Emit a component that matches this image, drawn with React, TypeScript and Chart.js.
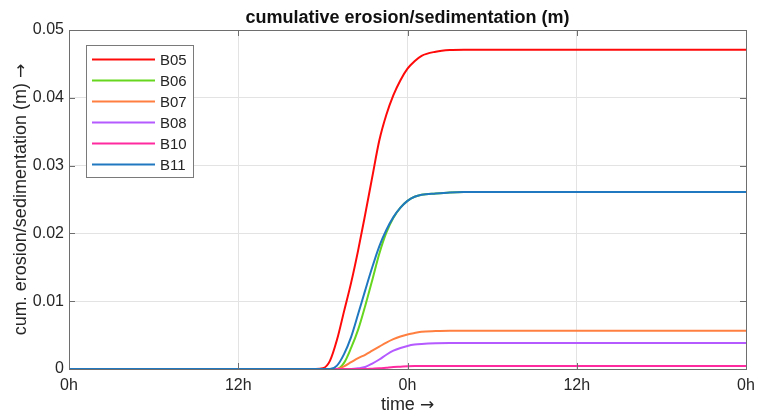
import React, { useEffect, useRef } from 'react';
import { Chart, registerables } from 'chart.js';

Chart.register(...registerables);

// time in hours from start of window
const hours = [0, 17.5, 18, 18.5, 19, 19.5, 20, 20.5, 21, 21.5, 22, 22.5, 23, 23.5, 24, 24.5, 25, 26, 27, 28, 48];

const seriesNames = ['B05', 'B06', 'B07', 'B08', 'B10', 'B11'];

const b05 = [0, 0, 0.0001, 0.0012, 0.0043, 0.0085, 0.0127, 0.0175, 0.0228, 0.0283, 0.0337, 0.0375, 0.0404, 0.0426, 0.0443, 0.0454, 0.0462, 0.0468, 0.04705, 0.0471, 0.0471];
const b06 = [0, 0, 0, 0, 0, 0.0009, 0.0031, 0.0058, 0.0093, 0.0131, 0.0170, 0.0201, 0.0223, 0.0238, 0.0248, 0.0254, 0.0257, 0.0259, 0.02605, 0.0261, 0.0261];
const b07 = [0, 0, 0, 0, 0, 0.0004, 0.0010, 0.0016, 0.0021, 0.0027, 0.0033, 0.0039, 0.0044, 0.0048, 0.0051, 0.0053, 0.0055, 0.0056, 0.00565, 0.00565, 0.00565];
const b08 = [0, 0, 0, 0, 0, 0, 0, 0.0001, 0.0003, 0.0008, 0.0014, 0.0021, 0.0027, 0.0031, 0.0034, 0.0036, 0.0037, 0.0038, 0.00383, 0.00383, 0.00383];
const b10 = [0, 0, 0, 0, 0, 0, 0, 0, 0, 0.00005, 0.0001, 0.0002, 0.0003, 0.00035, 0.0004, 0.00043, 0.00045, 0.00045, 0.00045, 0.00045, 0.00045];
const b11 = [0, 0, 0, 0, 0.0005, 0.0022, 0.0047, 0.0081, 0.0116, 0.0150, 0.0181, 0.0205, 0.0224, 0.0238, 0.0248, 0.0254, 0.0257, 0.0259, 0.02605, 0.0261, 0.0261];

const seriesValues = [b05, b06, b07, b08, b10, b11];
const seriesColors = ['#ff0a0a', '#66d61e', '#ff7f40', '#b45aff', '#ff2aa0', '#1f78c0'];

const xTickValues = [0, 12, 24, 36, 48];
const xTickLabels = ['0h', '12h', '0h', '12h', '0h'];
const yTickValues = [0, 0.01, 0.02, 0.03, 0.04, 0.05];
const yTickLabels = ['0', '0.01', '0.02', '0.03', '0.04', '0.05'];

const chartTitle = 'cumulative erosion/sedimentation (m)';
const xTitleText = 'time ';
const yTitleText = 'cum. erosion/sedimentation (m) ';
const arrow = '\u2192';

const FONT = '"Liberation Sans", Arial, Helvetica, sans-serif';
const ARROW_FONT = '"DejaVu Sans", sans-serif';
const TEXT = '#262626';
const AXIS = '#6e6e6e';
const GRID = '#e3e3e3';

function drawLabelWithArrow(ctx: any, text: string, cx: number, cy: number) {
  ctx.font = `18px ${FONT}`;
  const w1 = ctx.measureText(text).width;
  ctx.font = `17px ${ARROW_FONT}`;
  const w2 = ctx.measureText(arrow).width;
  const x0 = cx - (w1 + w2) / 2;
  ctx.textAlign = 'left';
  ctx.textBaseline = 'middle';
  ctx.font = `18px ${FONT}`;
  ctx.fillText(text, x0, cy);
  ctx.font = `17px ${ARROW_FONT}`;
  ctx.fillText(arrow, x0 + w1, cy + 1);
}

const decorPlugin = {
  id: 'decor',
  afterDraw(chart: any) {
    const { ctx, chartArea } = chart;
    const { left, right, top, bottom } = chartArea;
    const xs = chart.scales.x;
    const ys = chart.scales.y;
    ctx.save();
    // frame
    ctx.strokeStyle = AXIS;
    ctx.lineWidth = 1;
    ctx.strokeRect(Math.round(left) + 0.5, Math.round(top) + 0.5, Math.round(right - left), Math.round(bottom - top));
    // inward ticks
    const tl = 6;
    ctx.beginPath();
    xTickValues.forEach((v) => {
      const px = Math.round(xs.getPixelForValue(v)) + 0.5;
      ctx.moveTo(px, bottom);
      ctx.lineTo(px, bottom - tl);
      ctx.moveTo(px, top);
      ctx.lineTo(px, top + tl);
    });
    yTickValues.forEach((v) => {
      const py = Math.round(ys.getPixelForValue(v)) + 0.5;
      ctx.moveTo(left, py);
      ctx.lineTo(left + tl, py);
      ctx.moveTo(right, py);
      ctx.lineTo(right - tl, py);
    });
    ctx.stroke();

    // legend
    const lx = 86, ly = 45, lw = 107, lh = 132;
    ctx.fillStyle = '#ffffff';
    ctx.fillRect(lx, ly, lw, lh);
    ctx.strokeStyle = '#7a7a7a';
    ctx.strokeRect(lx + 0.5, ly + 0.5, lw, lh);
    ctx.font = `15px ${FONT}`;
    ctx.textBaseline = 'middle';
    ctx.textAlign = 'left';
    seriesNames.forEach((name, i) => {
      const y = 59.5 + i * 21;
      ctx.strokeStyle = seriesColors[i];
      ctx.lineWidth = 2;
      ctx.beginPath();
      ctx.moveTo(92, y);
      ctx.lineTo(155, y);
      ctx.stroke();
      ctx.fillStyle = TEXT;
      ctx.fillText(name, 160, y + 1);
    });

    // titles
    ctx.fillStyle = '#111111';
    ctx.font = `bold 18px ${FONT}`;
    ctx.textAlign = 'center';
    ctx.textBaseline = 'middle';
    ctx.fillText(chartTitle, (left + right) / 2, 18);

    ctx.fillStyle = TEXT;
    drawLabelWithArrow(ctx, xTitleText, (left + right) / 2, 405);

    ctx.save();
    ctx.translate(21, (top + bottom) / 2);
    ctx.rotate(-Math.PI / 2);
    drawLabelWithArrow(ctx, yTitleText, 0, 0);
    ctx.restore();

    ctx.restore();
  },
};

export default function App() {
  const canvasRef = useRef<HTMLCanvasElement | null>(null);

  useEffect(() => {
    const canvas = canvasRef.current;
    if (!canvas) return;
    const datasets = seriesNames.map((name, i) => ({
      label: name,
      data: hours.map((h, k) => ({ x: h, y: seriesValues[i][k] })),
      borderColor: seriesColors[i],
      backgroundColor: seriesColors[i],
      borderWidth: 2,
      pointRadius: 0,
      fill: false,
      cubicInterpolationMode: 'monotone' as const,
      order: seriesNames.length - i,
    }));

    const chart = new Chart(canvas, {
      type: 'line',
      data: { datasets },
      options: {
        animation: false,
        responsive: false,
        devicePixelRatio: 1,
        layout: { padding: { top: 30, right: 11, left: 0, bottom: 0 } },
        plugins: {
          legend: { display: false },
          title: { display: false },
          tooltip: { enabled: false },
        },
        scales: {
          x: {
            type: 'linear',
            min: 0,
            max: 48,
            afterFit: (s: any) => {
              s.height = 47;
              s.paddingRight = 0;
              s.paddingLeft = 0;
            },
            afterBuildTicks: (s: any) => {
              s.ticks = xTickValues.map((v) => ({ value: v }));
            },
            ticks: {
              autoSkip: false,
              maxRotation: 0,
              padding: 7,
              color: TEXT,
              font: { family: FONT, size: 16 },
              callback: (v: any) => xTickLabels[xTickValues.indexOf(Number(v))] ?? '',
            },
            grid: { color: GRID, drawTicks: false, lineWidth: 1 },
            border: { display: true, color: AXIS },
          },
          y: {
            type: 'linear',
            min: 0,
            max: 0.05,
            afterFit: (s: any) => {
              s.width = 69;
              s.paddingTop = 0;
              s.paddingBottom = 0;
            },
            afterBuildTicks: (s: any) => {
              s.ticks = yTickValues.map((v) => ({ value: v }));
            },
            ticks: {
              padding: 5,
              color: TEXT,
              font: { family: FONT, size: 16 },
              callback: (v: any) => {
                const idx = yTickValues.findIndex((t) => Math.abs(t - Number(v)) < 1e-9);
                return idx >= 0 ? yTickLabels[idx] : '';
              },
            },
            grid: { color: GRID, drawTicks: false, lineWidth: 1 },
            border: { display: true, color: AXIS },
          },
        },
      },
      plugins: [decorPlugin],
    });
    return () => chart.destroy();
  }, []);

  return (
    <div style={{ position: 'fixed', left: 0, top: 0, width: 757, height: 416, background: '#fff' }}>
      <canvas ref={canvasRef} width={757} height={416} style={{ display: 'block' }} />
    </div>
  );
}
